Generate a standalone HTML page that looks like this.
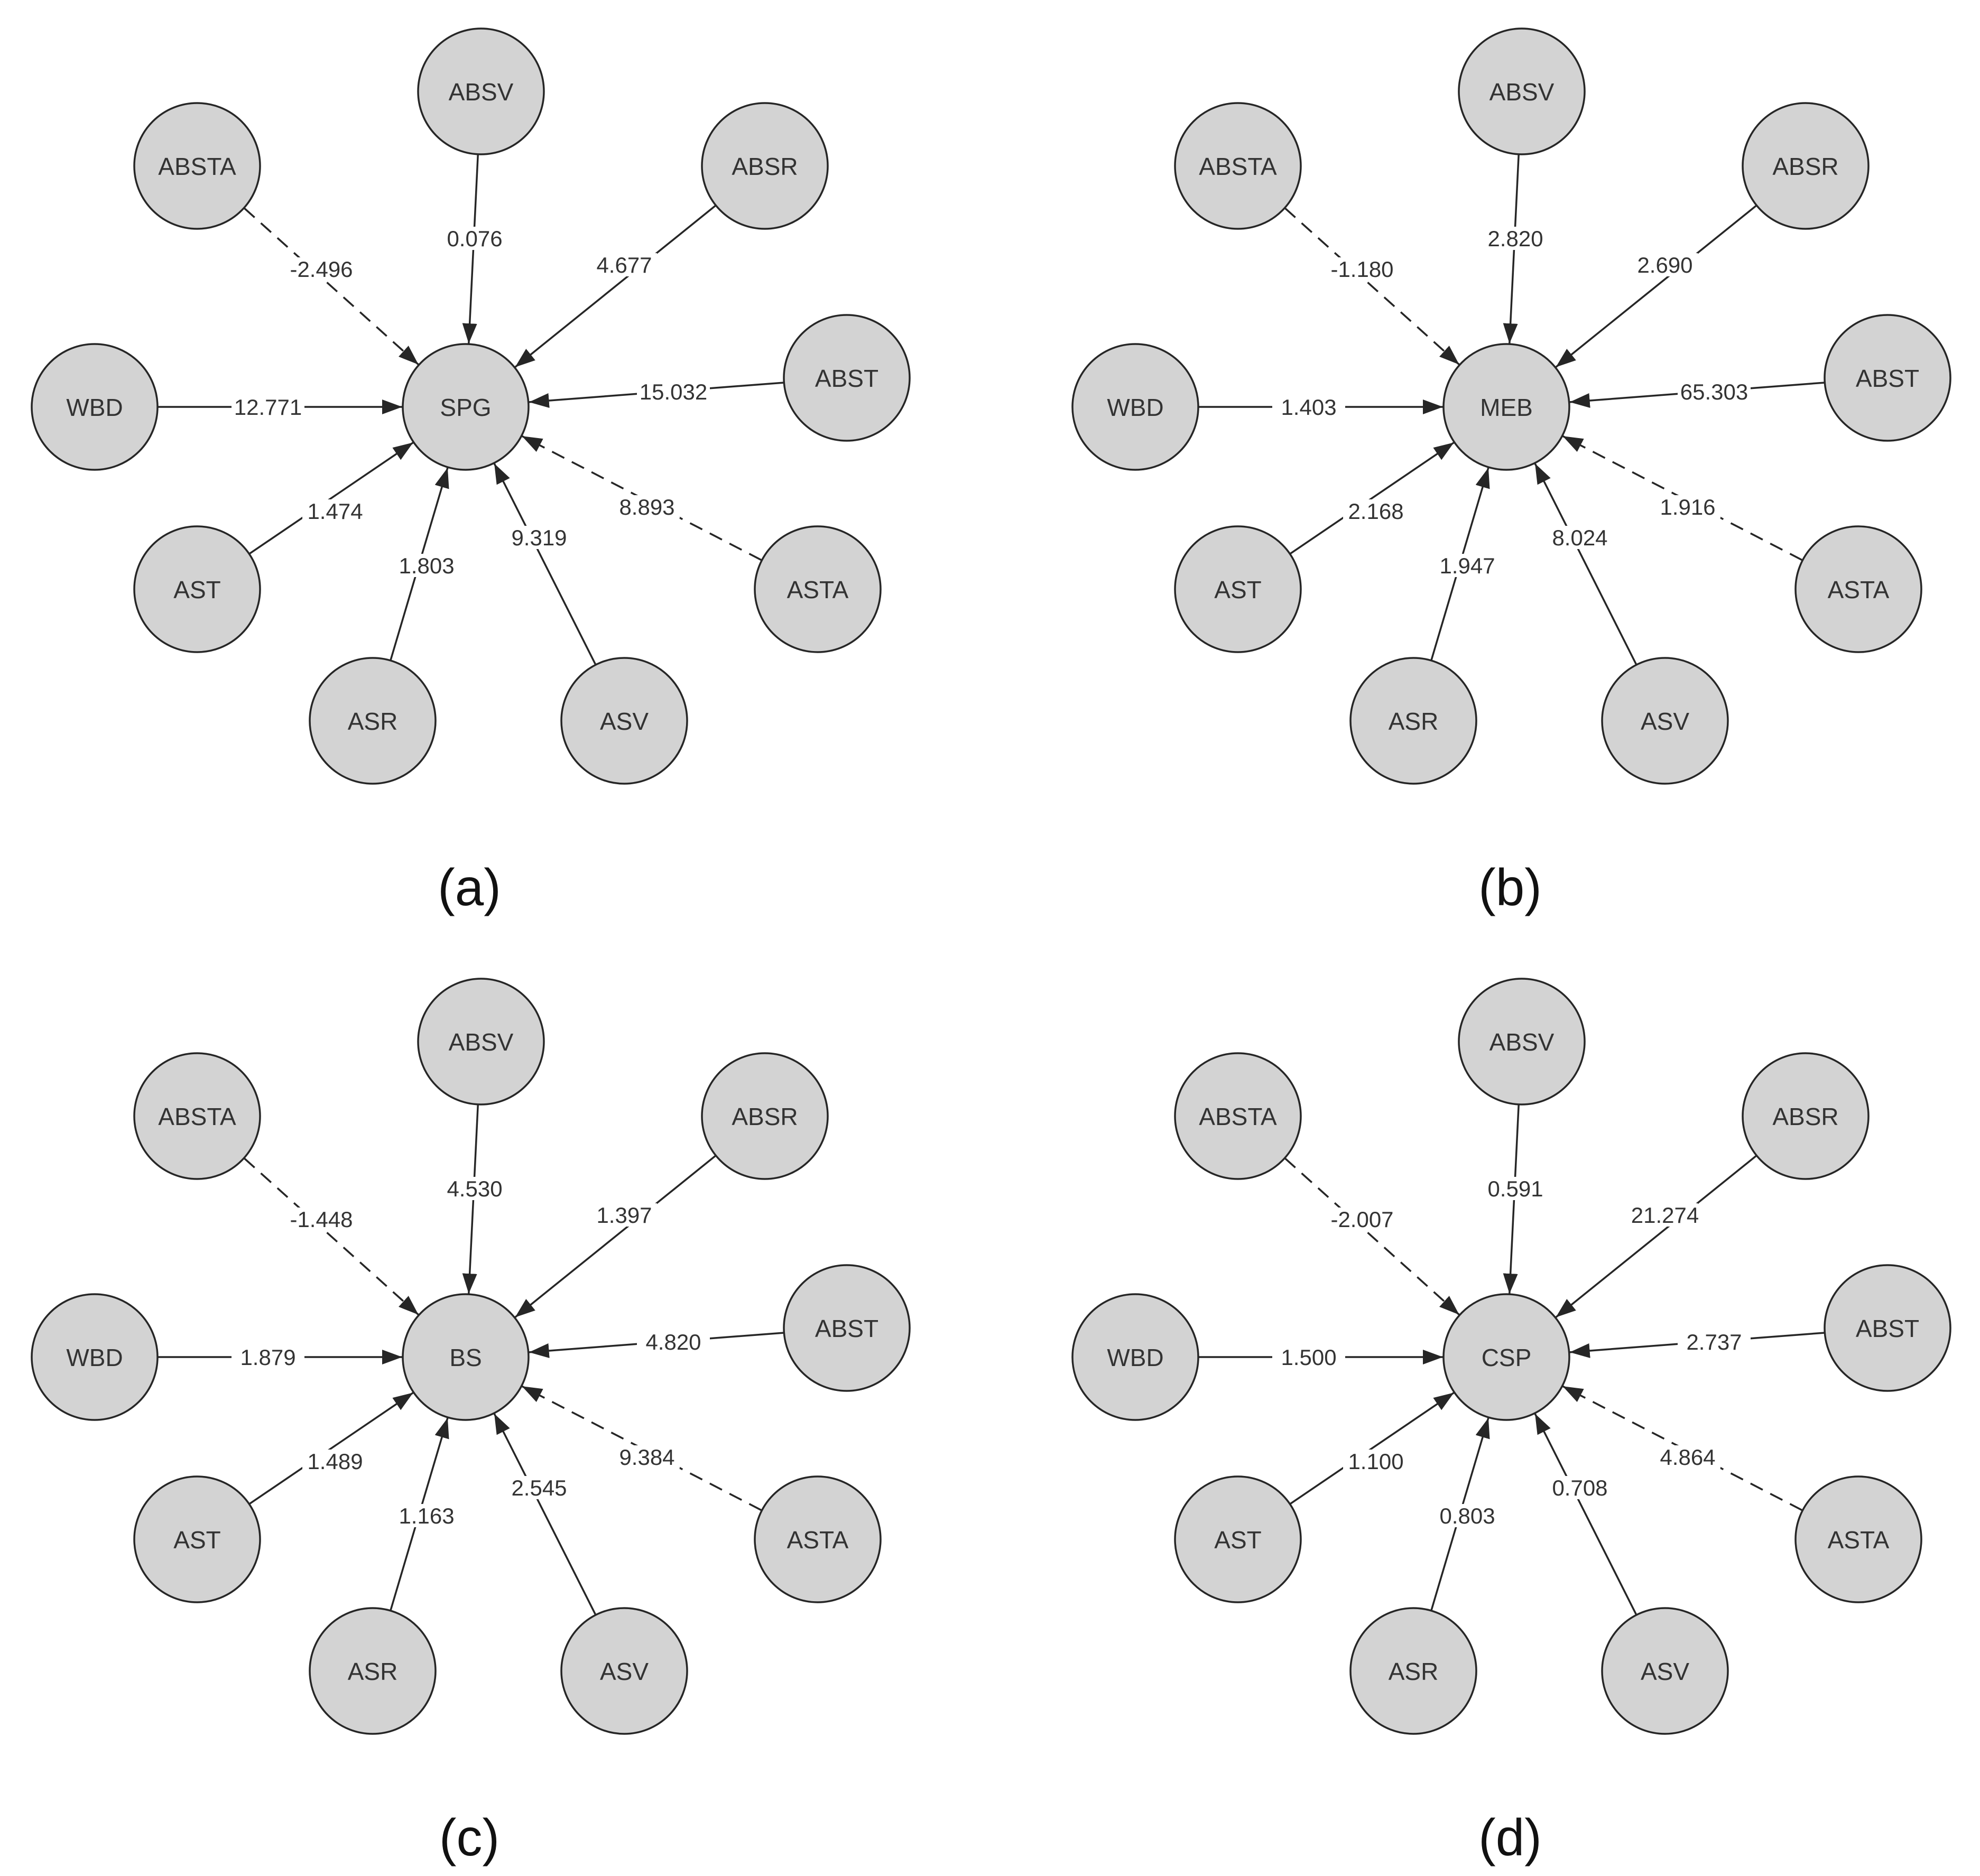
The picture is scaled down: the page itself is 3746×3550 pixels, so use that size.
<!DOCTYPE html>
<html><head><meta charset="utf-8"><style>
html,body{margin:0;padding:0;background:#fff;}
svg{display:block;}
.n{fill:#d3d3d3;stroke:#262626;stroke-width:3.5;}
.e{stroke:#262626;stroke-width:3.5;fill:none;}
.d{stroke-dasharray:26 16;}
.nt{font-family:"Liberation Sans",sans-serif;font-size:46px;fill:#333;text-anchor:middle;}
.lt{font-family:"Liberation Sans",sans-serif;font-size:42px;fill:#333;text-anchor:middle;}
.bg{fill:#fff;}
.cap{font-family:"Liberation Sans",sans-serif;font-size:98px;fill:#111;text-anchor:middle;}
</style></head><body>
<svg width="3746" height="3550" viewBox="0 0 3746 3550" xmlns="http://www.w3.org/2000/svg">
<defs>
<marker id="ar" markerUnits="userSpaceOnUse" markerWidth="40" markerHeight="30" refX="38" refY="14" orient="auto">
<path d="M0,0 L38,14 L0,28 z" fill="#262626"/>
</marker>
<g id="base">
<line class="e" x1="23.2" y1="-477.1" x2="5.8" y2="-119.9" marker-end="url(#ar)"/>
<line class="e d" x1="-418.7" y1="-375.9" x2="-89.3" y2="-80.1" marker-end="url(#ar)"/>
<line class="e" x1="472.5" y1="-380.7" x2="93.5" y2="-75.3" marker-end="url(#ar)"/>
<line class="e" x1="-582" y1="0" x2="-120" y2="0" marker-end="url(#ar)"/>
<line class="e" x1="601.3" y1="-45.9" x2="119.7" y2="-9.1" marker-end="url(#ar)"/>
<line class="e" x1="-408.7" y1="277.6" x2="-99.3" y2="67.4" marker-end="url(#ar)"/>
<line class="e d" x1="559.5" y1="289.8" x2="106.5" y2="55.2" marker-end="url(#ar)"/>
<line class="e" x1="-141.9" y1="478.9" x2="-34.1" y2="115.1" marker-end="url(#ar)"/>
<line class="e" x1="245.9" y1="487.9" x2="54.1" y2="107.1" marker-end="url(#ar)"/>
<circle class="n" cx="0" cy="0" r="119"/>
<circle class="n" cx="29" cy="-597" r="119"/>
<circle class="n" cx="-508" cy="-456" r="119"/>
<circle class="n" cx="566" cy="-456" r="119"/>
<circle class="n" cx="-702" cy="0" r="119"/>
<circle class="n" cx="721" cy="-55" r="119"/>
<circle class="n" cx="-508" cy="345" r="119"/>
<circle class="n" cx="666" cy="345" r="119"/>
<circle class="n" cx="-176" cy="594" r="119"/>
<circle class="n" cx="300" cy="594" r="119"/>
<rect class="bg" x="-335" y="-283" width="124" height="44"/>
<rect class="bg" x="-45" y="-341" width="124" height="44"/>
<rect class="bg" x="238" y="-291" width="124" height="44"/>
<rect class="bg" x="-443" y="-22" width="138" height="44"/>
<rect class="bg" x="324" y="-51" width="138" height="44"/>
<rect class="bg" x="-309" y="175" width="124" height="44"/>
<rect class="bg" x="-136" y="278" width="124" height="44"/>
<rect class="bg" x="77" y="225" width="124" height="44"/>
<rect class="bg" x="281" y="167" width="124" height="44"/>
</g>
<g id="names">
<text class="nt" x="29" y="-580">ABSV</text>
<text class="nt" x="-508" y="-439">ABSTA</text>
<text class="nt" x="566" y="-439">ABSR</text>
<text class="nt" x="-702" y="17">WBD</text>
<text class="nt" x="721" y="-38">ABST</text>
<text class="nt" x="-508" y="362">AST</text>
<text class="nt" x="666" y="362">ASTA</text>
<text class="nt" x="-176" y="611">ASR</text>
<text class="nt" x="300" y="611">ASV</text>
</g>
</defs>

<g transform="translate(881,770)">
<use href="#base"/>
<text class="nt" x="0" y="17">SPG</text>
<text class="nt" x="29" y="-580">ABSV</text><text class="nt" x="-508" y="-439">ABSTA</text><text class="nt" x="566" y="-439">ABSR</text><text class="nt" x="-702" y="17">WBD</text><text class="nt" x="721" y="-38">ABST</text><text class="nt" x="-508" y="362">AST</text><text class="nt" x="666" y="362">ASTA</text><text class="nt" x="-176" y="611">ASR</text><text class="nt" x="300" y="611">ASV</text>
<text class="lt" x="-273" y="-246">-2.496</text>
<text class="lt" x="17" y="-304">0.076</text>
<text class="lt" x="300" y="-254">4.677</text>
<text class="lt" x="-374" y="15">12.771</text>
<text class="lt" x="393" y="-14">15.032</text>
<text class="lt" x="-247" y="212">1.474</text>
<text class="lt" x="-74" y="315">1.803</text>
<text class="lt" x="139" y="262">9.319</text>
<text class="lt" x="343" y="204">8.893</text>
<text class="cap" x="7" y="943">(a)</text>
</g>

<g transform="translate(2850,770)">
<use href="#base"/>
<text class="nt" x="0" y="17">MEB</text>
<text class="nt" x="29" y="-580">ABSV</text><text class="nt" x="-508" y="-439">ABSTA</text><text class="nt" x="566" y="-439">ABSR</text><text class="nt" x="-702" y="17">WBD</text><text class="nt" x="721" y="-38">ABST</text><text class="nt" x="-508" y="362">AST</text><text class="nt" x="666" y="362">ASTA</text><text class="nt" x="-176" y="611">ASR</text><text class="nt" x="300" y="611">ASV</text>
<text class="lt" x="-273" y="-246">-1.180</text>
<text class="lt" x="17" y="-304">2.820</text>
<text class="lt" x="300" y="-254">2.690</text>
<text class="lt" x="-374" y="15">1.403</text>
<text class="lt" x="393" y="-14">65.303</text>
<text class="lt" x="-247" y="212">2.168</text>
<text class="lt" x="-74" y="315">1.947</text>
<text class="lt" x="139" y="262">8.024</text>
<text class="lt" x="343" y="204">1.916</text>
<text class="cap" x="7" y="943">(b)</text>
</g>

<g transform="translate(881,2568)">
<use href="#base"/>
<text class="nt" x="0" y="17">BS</text>
<text class="nt" x="29" y="-580">ABSV</text><text class="nt" x="-508" y="-439">ABSTA</text><text class="nt" x="566" y="-439">ABSR</text><text class="nt" x="-702" y="17">WBD</text><text class="nt" x="721" y="-38">ABST</text><text class="nt" x="-508" y="362">AST</text><text class="nt" x="666" y="362">ASTA</text><text class="nt" x="-176" y="611">ASR</text><text class="nt" x="300" y="611">ASV</text>
<text class="lt" x="-273" y="-246">-1.448</text>
<text class="lt" x="17" y="-304">4.530</text>
<text class="lt" x="300" y="-254">1.397</text>
<text class="lt" x="-374" y="15">1.879</text>
<text class="lt" x="393" y="-14">4.820</text>
<text class="lt" x="-247" y="212">1.489</text>
<text class="lt" x="-74" y="315">1.163</text>
<text class="lt" x="139" y="262">2.545</text>
<text class="lt" x="343" y="204">9.384</text>
<text class="cap" x="7" y="943">(c)</text>
</g>

<g transform="translate(2850,2568)">
<use href="#base"/>
<text class="nt" x="0" y="17">CSP</text>
<text class="nt" x="29" y="-580">ABSV</text><text class="nt" x="-508" y="-439">ABSTA</text><text class="nt" x="566" y="-439">ABSR</text><text class="nt" x="-702" y="17">WBD</text><text class="nt" x="721" y="-38">ABST</text><text class="nt" x="-508" y="362">AST</text><text class="nt" x="666" y="362">ASTA</text><text class="nt" x="-176" y="611">ASR</text><text class="nt" x="300" y="611">ASV</text>
<text class="lt" x="-273" y="-246">-2.007</text>
<text class="lt" x="17" y="-304">0.591</text>
<text class="lt" x="300" y="-254">21.274</text>
<text class="lt" x="-374" y="15">1.500</text>
<text class="lt" x="393" y="-14">2.737</text>
<text class="lt" x="-247" y="212">1.100</text>
<text class="lt" x="-74" y="315">0.803</text>
<text class="lt" x="139" y="262">0.708</text>
<text class="lt" x="343" y="204">4.864</text>
<text class="cap" x="7" y="943">(d)</text>
</g>
</svg>
</body></html>
